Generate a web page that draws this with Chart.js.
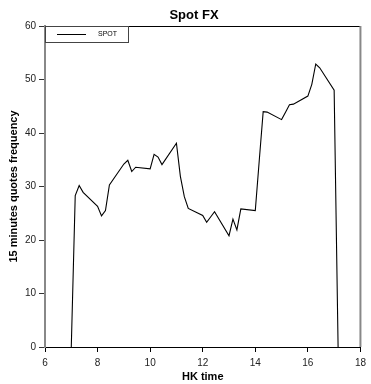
<!DOCTYPE html>
<html>
<head>
<meta charset="utf-8">
<script src="https://cdn.jsdelivr.net/npm/chart.js@4"></script>
<style>
  body { margin: 0; background: #fff; }
  #wrap { width: 371px; height: 384px; }
</style>
</head>
<body>
<div id="wrap"><canvas id="spot_fx_chart"></canvas></div>
<script>
// HK time written as hh.mm, plotted as plain numbers
const hkTime = [7.00, 7.15, 7.30, 7.45, 8.00, 8.15, 8.30, 8.45, 9.00, 9.15, 9.30, 9.45,
                10.00, 10.15, 10.30, 10.45, 11.00, 11.15, 11.30, 11.45, 12.00, 12.15, 12.30, 12.45,
                13.00, 13.15, 13.30, 13.45, 14.00, 14.15, 14.30, 14.45, 15.00, 15.15, 15.30, 15.45,
                16.00, 16.15, 16.30, 16.45, 17.00, 17.15];
const spotQuotes = [0, 28.3, 30.2, 28.9, 26.3, 24.5, 25.5, 30.3, 34.2, 34.9, 32.8, 33.6,
                    33.3, 36.0, 35.5, 34.1, 38.1, 31.9, 28.1, 25.9, 24.6, 23.3, 24.3, 25.3,
                    20.8, 23.9, 21.9, 25.8, 25.5, 34.8, 44.0, 43.9, 42.5, 43.9, 45.3, 45.4,
                    46.9, 49.1, 52.9, 52.2, 48.0, 0];
const xTicks = [6, 8, 10, 12, 14, 16, 18];
const yTicks = [0, 10, 20, 30, 40, 50, 60];

const FONT = "'Liberation Sans', Arial, sans-serif";

// title, top/right frame and the little legend box inside the plot
const framePlugin = {
    id: "frame",
    afterDraw(chart) {
        const { ctx, chartArea: a } = chart;
        ctx.save();
        ctx.strokeStyle = "#000";
        ctx.lineWidth = 1;
        ctx.beginPath();
        ctx.moveTo(a.left, a.top + 0.5);
        ctx.lineTo(a.right, a.top + 0.5);
        ctx.stroke();
        ctx.strokeStyle = "#888";
        ctx.lineWidth = 2;
        ctx.beginPath();
        ctx.moveTo(a.right, a.top);
        ctx.lineTo(a.right, a.bottom);
        ctx.stroke();

        ctx.fillStyle = "#000";
        ctx.font = "bold 13px " + FONT;
        ctx.textAlign = "center";
        ctx.textBaseline = "middle";
        ctx.fillText("Spot FX", 194, 15);

        // legend
        ctx.fillStyle = "#fff";
        ctx.fillRect(a.left, a.top, 84, 16);
        ctx.strokeStyle = "#444";
        ctx.lineWidth = 1;
        ctx.strokeRect(a.left + 0.5, a.top + 0.5, 83, 16);
        ctx.strokeStyle = "#000";
        ctx.beginPath();
        ctx.moveTo(a.left + 12, a.top + 8.5);
        ctx.lineTo(a.left + 41, a.top + 8.5);
        ctx.stroke();
        ctx.fillStyle = "#000";
        ctx.font = "7px " + FONT;
        ctx.textAlign = "left";
        ctx.fillText(chart.data.datasets[0].label, a.left + 53, a.top + 8.5);
        ctx.restore();
    }
};

new Chart(document.getElementById("spot_fx_chart"), {
    type: "line",
    data: {
        datasets: [{
            label: "SPOT",
            data: hkTime.map((t, i) => ({ x: t, y: spotQuotes[i] })),
            borderColor: "#000",
            borderWidth: 1.1,
            pointRadius: 0,
            fill: false,
            tension: 0
        }]
    },
    options: {
        responsive: true,
        maintainAspectRatio: false,
        animation: false,
        layout: { padding: { top: 26, right: 6, left: 0, bottom: 0 } },
        plugins: {
            legend: { display: false },
            title: { display: false },
            tooltip: { enabled: false }
        },
        scales: {
            x: {
                type: "linear",
                min: 6,
                max: 18,
                afterBuildTicks: s => { s.ticks = xTicks.map(v => ({ value: v })); },
                afterFit: s => { s.height = 37; },
                grid: { drawOnChartArea: false, drawTicks: true, tickLength: 5, color: "#000" },
                border: { display: true, color: "#000", width: 1 },
                ticks: { font: { family: FONT, size: 10 }, color: "#222", padding: 5, maxRotation: 0 },
                title: { display: true, text: "HK time", color: "#000",
                         font: { family: FONT, size: 11, weight: "bold" }, padding: { top: 0, bottom: 0 } }
            },
            y: {
                min: 0,
                max: 60,
                afterBuildTicks: s => { s.ticks = yTicks.map(v => ({ value: v })); },
                afterFit: s => { s.width = 45; },
                grid: { drawOnChartArea: false, drawTicks: true, tickLength: 6, color: "#333" },
                border: { display: true, color: "#888", width: 2 },
                ticks: { font: { family: FONT, size: 10 }, color: "#222", padding: 3 },
                title: { display: true, text: "15 minutes quotes frequency", color: "#000",
                         font: { family: FONT, size: 11, weight: "bold" }, padding: { top: 7, bottom: 0 } }
            }
        }
    },
    plugins: [framePlugin]
});
</script>
</body>
</html>
